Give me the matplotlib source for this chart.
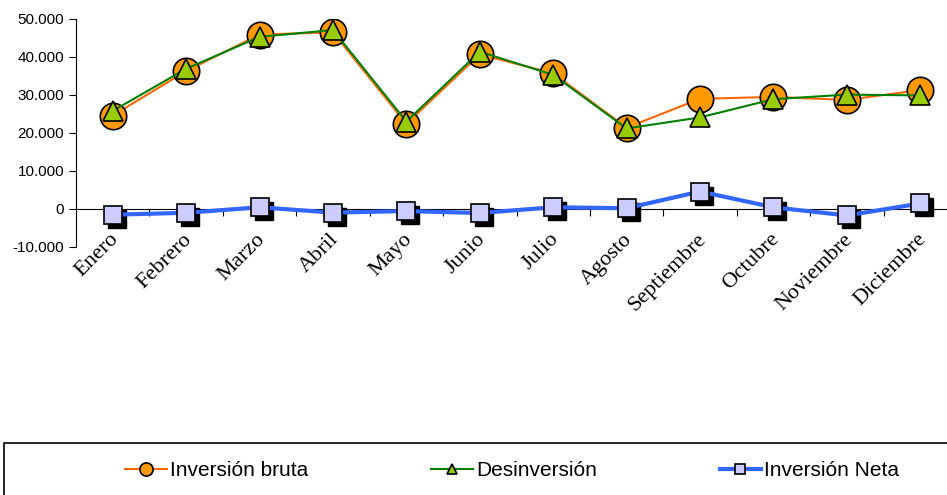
import matplotlib.pyplot as plt
import matplotlib.transforms as mtransforms
from matplotlib.patches import Rectangle
from matplotlib.ticker import FuncFormatter, MultipleLocator

# datos
meses = ['Enero', 'Febrero', 'Marzo', 'Abril', 'Mayo', 'Junio', 'Julio',
         'Agosto', 'Septiembre', 'Octubre', 'Noviembre', 'Diciembre']
inv_bruta = [24600, 36300, 45900, 46500, 22400, 40700, 35700, 21400, 29000, 29500, 28700, 31300]
desinversion = [25800, 36900, 45300, 47100, 23000, 41400, 35300, 21200, 24100, 28900, 30100, 29900]
inv_neta = [-1500, -1000, 450, -950, -550, -1050, 450, 200, 4600, 450, -1700, 1450]

x = list(range(len(meses)))

fig = plt.figure(figsize=(9.47, 4.95), dpi=100)
ax = fig.add_axes([76 / 947, 1 - 247 / 495, 881 / 947, 228 / 495])

ax.plot(x, inv_bruta, color='#FF6600', lw=1.5, marker='o', ms=19,
        mfc='#FF9900', mec='black', mew=1.2, label='Inversión bruta', zorder=3)
ax.plot(x, desinversion, color='#008000', lw=1.5, marker='^', ms=15,
        mfc='#99CC00', mec='black', mew=1.2, label='Desinversión', zorder=4)

# sombra de los cuadrados
shadow = ax.transData + mtransforms.ScaledTranslation(4 / 100, -4 / 100, fig.dpi_scale_trans)
ax.plot(x, inv_neta, ls='none', marker='s', ms=13.5, mfc='black', mec='black',
        transform=shadow, zorder=5)
ax.plot(x, inv_neta, color='#3366FF', lw=3, marker='s', ms=13.5,
        mfc='#CCCCFF', mec='black', mew=1.2, label='Inversión Neta', zorder=6)

ax.set_xlim(-0.5, 11.5)
ax.set_ylim(-10000, 50000)
ax.yaxis.set_major_locator(MultipleLocator(10000))
ax.yaxis.set_major_formatter(FuncFormatter(lambda v, p: f'{v:,.0f}'.replace(',', '.')))
for lab in ax.get_yticklabels():
    lab.set_fontfamily('Liberation Sans')
ax.tick_params(axis='y', labelsize=11, length=5, direction='out', colors='black')

for s in ['top', 'right']:
    ax.spines[s].set_visible(False)
ax.spines['bottom'].set_position(('data', 0))
ax.spines['bottom'].set_zorder(2)

# marcas del eje x en los limites de las categorias
ax.set_xticks([i + 0.5 for i in range(11)])
ax.set_xticklabels([])
ax.tick_params(axis='x', length=5, direction='out')
tick_tr = ax.get_xaxis_transform()
for i, m in enumerate(meses):
    ax.text(i - 0.05, 0.075, m, transform=tick_tr, rotation=45, ha='right', va='top',
            rotation_mode='anchor', fontsize=16, family='Liberation Serif')

# leyenda
fig.patches.append(Rectangle((4 / 947, -0.1), 1, (495 - 443) / 495 + 0.1,
                             transform=fig.transFigure, fill=False, ec='black', lw=1.2))
fig.legend(loc='center left', bbox_to_anchor=(125 / 947, 1 - 471 / 495), ncol=3, frameon=False,
           handlelength=2.0, columnspacing=5.9, handletextpad=0.15, markerscale=0.5,
           borderpad=0, borderaxespad=0,
           prop={'family': 'Liberation Sans', 'size': 15})

fig.savefig('out.png', dpi=100)
